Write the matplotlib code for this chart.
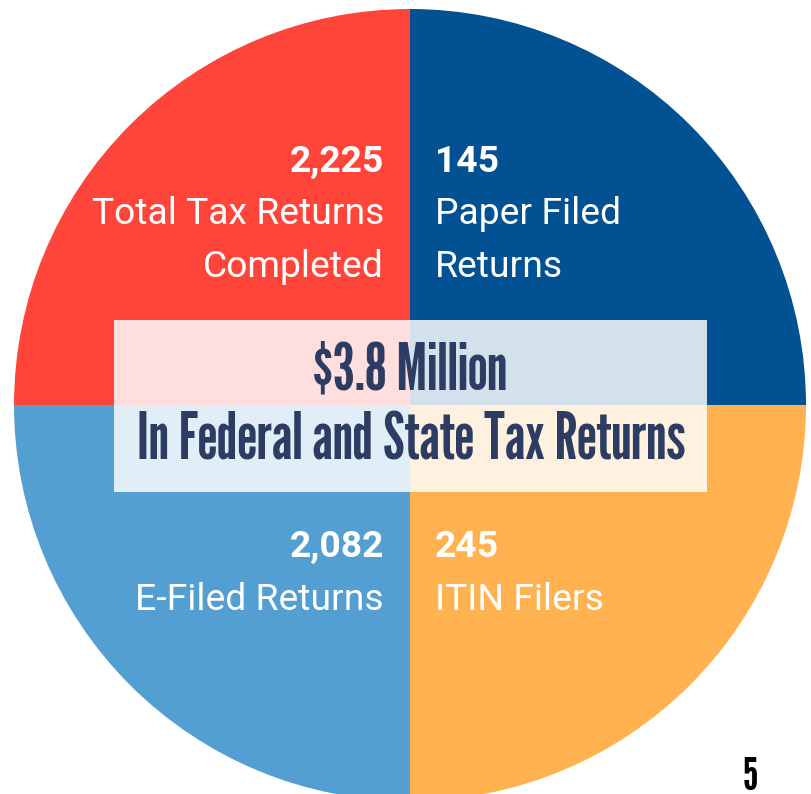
import matplotlib
matplotlib.use("Agg")
import matplotlib.pyplot as plt
from matplotlib.patches import Rectangle

# ── Data ──────────────────────────────────────────────────────────────────────
# quadrants, clockwise from 12 o'clock: top-right, bottom-right, bottom-left, top-left
shares  = [25, 25, 25, 25]
colours = ["#025192", "#FFB24F", "#539FD1", "#FF453A"]

numbers = ["145", "245", "2,082", "2,225"]
labels  = [["Paper Filed", "Returns"],
           ["ITIN Filers"],
           ["E-Filed Returns"],
           ["Total Tax Returns", "Completed"]]

headline = ["$3.8 Million", "In Federal and State Tax Returns"]
page_no  = "5"

# ── Canvas (pixel-like coordinates, origin bottom-left) ───────────────────────
W, H = 812, 794
fig = plt.figure(figsize=(W / 100, H / 100), dpi=100)
ax = fig.add_axes([0, 0, 1, 1])

cx, cy, r = 410, H - 405, 396
ax.pie(shares, colors=colours, startangle=90, counterclock=False,
       center=(cx, cy), radius=r, frame=True,
       wedgeprops=dict(linewidth=0))
ax.set_xlim(0, W)
ax.set_ylim(0, H)
ax.set_aspect("auto")
ax.axis("off")

# ── Quadrant labels ───────────────────────────────────────────────────────────
ROBOTO = ["Roboto", "DejaVu Sans"]
SIZE = 26.8
LINE = 52.5
# (x, first baseline in px from top, horizontal alignment) per quadrant
spots = [(435, 172, "left"), (435, 557, "left"),
         (384, 557, "right"), (384, 172, "right")]

for num, lines, (x, y0, ha) in zip(numbers, labels, spots):
    ax.text(x, H - y0, num, ha=ha, va="baseline", color="white",
            fontsize=SIZE, fontweight="bold", family=ROBOTO)
    for i, line in enumerate(lines, start=1):
        ax.text(x, H - (y0 + i * LINE), line, ha=ha, va="baseline",
                color="white", fontsize=SIZE, family=ROBOTO)

# ── Centre banner ─────────────────────────────────────────────────────────────
ax.add_patch(Rectangle((114, H - 492), 593, 172, facecolor="white",
                       alpha=0.83, linewidth=0, zorder=3))

GOTHIC = ["League Gothic", "DejaVu Sans"]
NAVY = "#2D3C62"
ax.text(410, H - 389, headline[0], ha="center", va="baseline", color=NAVY,
        fontsize=46, family=GOTHIC, zorder=4)
ax.text(411, H - 459, headline[1], ha="center", va="baseline", color=NAVY,
        fontsize=46, family=GOTHIC, zorder=4)

# page number
ax.text(750, H - 790, page_no, ha="center", va="baseline", color="black",
        fontsize=32, family=GOTHIC, zorder=4)

fig.savefig("out.png", dpi=100)
